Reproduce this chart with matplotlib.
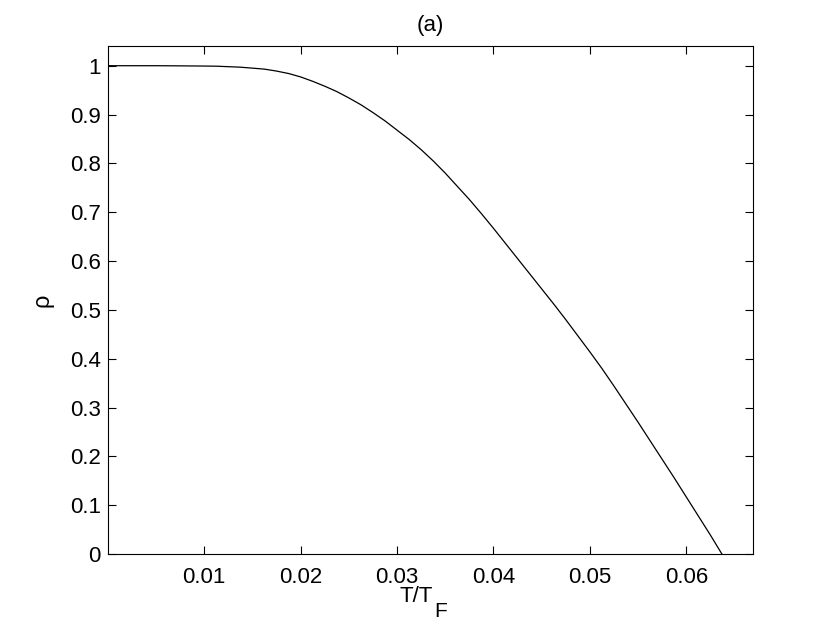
import matplotlib
matplotlib.use('Agg')
import matplotlib.pyplot as plt

plt.rcParams['font.family'] = ['Liberation Sans', 'DejaVu Sans']

# T/T_F and rho
t_tf = [0.0001, 0.0025, 0.005, 0.0075, 0.01, 0.01125, 0.0125, 0.01375, 0.015, 0.01625,
        0.0175, 0.01875, 0.02, 0.02125, 0.0225, 0.02375, 0.025, 0.02625, 0.0275, 0.02875,
        0.03, 0.03125, 0.0325, 0.03375, 0.035, 0.03625, 0.0375, 0.03875, 0.04, 0.04125,
        0.0425, 0.04375, 0.045, 0.04625, 0.0475, 0.04875, 0.05, 0.05125, 0.0525, 0.05375,
        0.055, 0.05625, 0.0575, 0.05875, 0.06, 0.06125, 0.0625, 0.0637]
rho = [1.0, 1.0, 1.0, 0.9997, 0.9993, 0.999, 0.998, 0.997, 0.995, 0.993,
       0.989, 0.984, 0.977, 0.968, 0.958, 0.947, 0.934, 0.920, 0.904, 0.887,
       0.868, 0.849, 0.828, 0.805, 0.780, 0.753, 0.726, 0.697, 0.667, 0.636,
       0.605, 0.574, 0.543, 0.512, 0.480, 0.447, 0.414, 0.380, 0.344, 0.307,
       0.270, 0.232, 0.194, 0.156, 0.117, 0.078, 0.039, 0.0]

xticks = [0.01, 0.02, 0.03, 0.04, 0.05, 0.06]
xlabels = ['0.01', '0.02', '0.03', '0.04', '0.05', '0.06']
yticks = [0, 0.1, 0.2, 0.3, 0.4, 0.5, 0.6, 0.7, 0.8, 0.9, 1]
ylabels = ['0', '0.1', '0.2', '0.3', '0.4', '0.5', '0.6', '0.7', '0.8', '0.9', '1']

fig = plt.figure(figsize=(8.3, 6.24), dpi=100)
ax = fig.add_axes([0.13, 0.112, 0.777, 0.814])
ax.plot(t_tf, rho, color='black', linewidth=0.9)

ax.set_xlim(0, 0.0669)
ax.set_ylim(0, 1.04)
ax.set_xticks(xticks)
ax.set_xticklabels(xlabels)
ax.set_yticks(yticks)
ax.set_yticklabels(ylabels)
ax.tick_params(direction='in', length=6, width=0.8, top=True, right=True, labelsize=16)
ax.tick_params(axis='x', pad=9)
ax.tick_params(axis='y', pad=5)
for s in ax.spines.values():
    s.set_linewidth(0.8)

lab = ax.set_xlabel('T/T', fontsize=16)
ax.xaxis.set_label_coords(0.478, -0.062)
lab.set_va('top')
ax.annotate('F', xy=(1, 0), xycoords=lab, xytext=(1, 3), textcoords='offset points',
            ha='left', va='top', fontsize=15)
ax.set_ylabel('ρ', fontsize=17, labelpad=12)
ax.set_title('(a)', fontsize=16, pad=11)

fig.savefig('out.png', dpi=100)
